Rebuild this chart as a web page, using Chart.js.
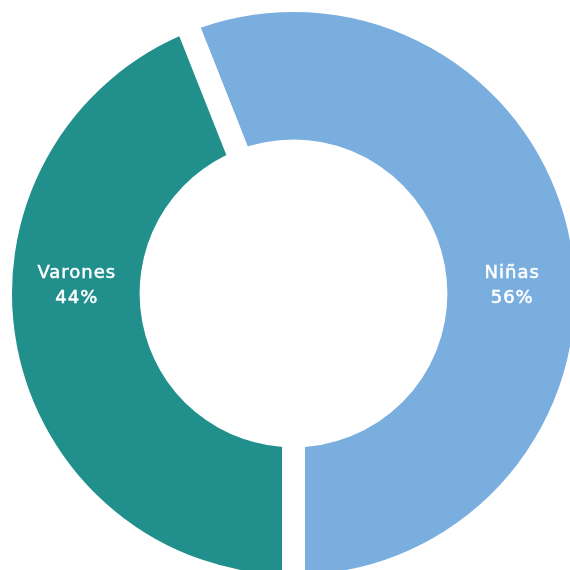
<!DOCTYPE html>
<html>
<head>
<meta charset="utf-8">
<script src="https://cdn.jsdelivr.net/npm/chart.js@4.4.1/dist/chart.umd.min.js"></script>
<style>
html,body{margin:0;padding:0;background:#fff;overflow:hidden}
#wrap{width:570px;height:570px;position:relative}
</style>
</head>
<body>
<div id="wrap"><canvas id="myChart" width="570" height="570"></canvas></div>
<script>
let labels = ['Niñas', 'Varones']
let values = [56, 44]
let colors = ['#7aaede', '#218f8c']

// escribe nombre y porcentaje dentro de cada segmento
const sliceLabels = {
    id: 'sliceLabels',
    afterDatasetsDraw(chart) {
        const ctx = chart.ctx
        const meta = chart.getDatasetMeta(0)
        ctx.save()
        ctx.fillStyle = '#fff'
        ctx.strokeStyle = '#fff'
        ctx.lineWidth = 0.5
        ctx.font = '18px "DejaVu Sans"'
        ctx.letterSpacing = '1px'
        ctx.textAlign = 'center'
        ctx.textBaseline = 'alphabetic'
        meta.data.forEach(function (arc, i) {
            const p = arc.getProps(['x', 'y', 'startAngle', 'endAngle', 'innerRadius', 'outerRadius'], true)
            const mid = (p.startAngle + p.endAngle) / 2
            const r = (p.innerRadius + p.outerRadius) / 2
            const side = Math.cos(mid) < 0 ? -1 : 1
            const x = p.x + side * r + 1
            ctx.fillText(labels[i], x, p.y - 15.5)
            ctx.strokeText(labels[i], x, p.y - 15.5)
            ctx.fillText(values[i] + '%', x, p.y + 9.5)
            ctx.strokeText(values[i] + '%', x, p.y + 9.5)
        })
        ctx.restore()
    }
}

const ctx = document.getElementById('myChart').getContext('2d')
const myChart = new Chart(ctx, {
    type: 'doughnut',
    data: {
        labels: labels,
        datasets: [{
            data: values,
            backgroundColor: colors,
            borderColor: '#ffffff',
            borderWidth: 23,
            hoverOffset: 0,
            clip: false
        }]
    },
    options: {
        responsive: false,
        devicePixelRatio: 1,
        animation: false,
        events: [],
        rotation: -21.6,
        radius: 293,
        cutout: '48.6%',
        layout: {padding: {left: 17, top: 17}},
        plugins: {
            legend: {display: false},
            tooltip: {enabled: false}
        }
    },
    plugins: [sliceLabels]
})
</script>
</body>
</html>
